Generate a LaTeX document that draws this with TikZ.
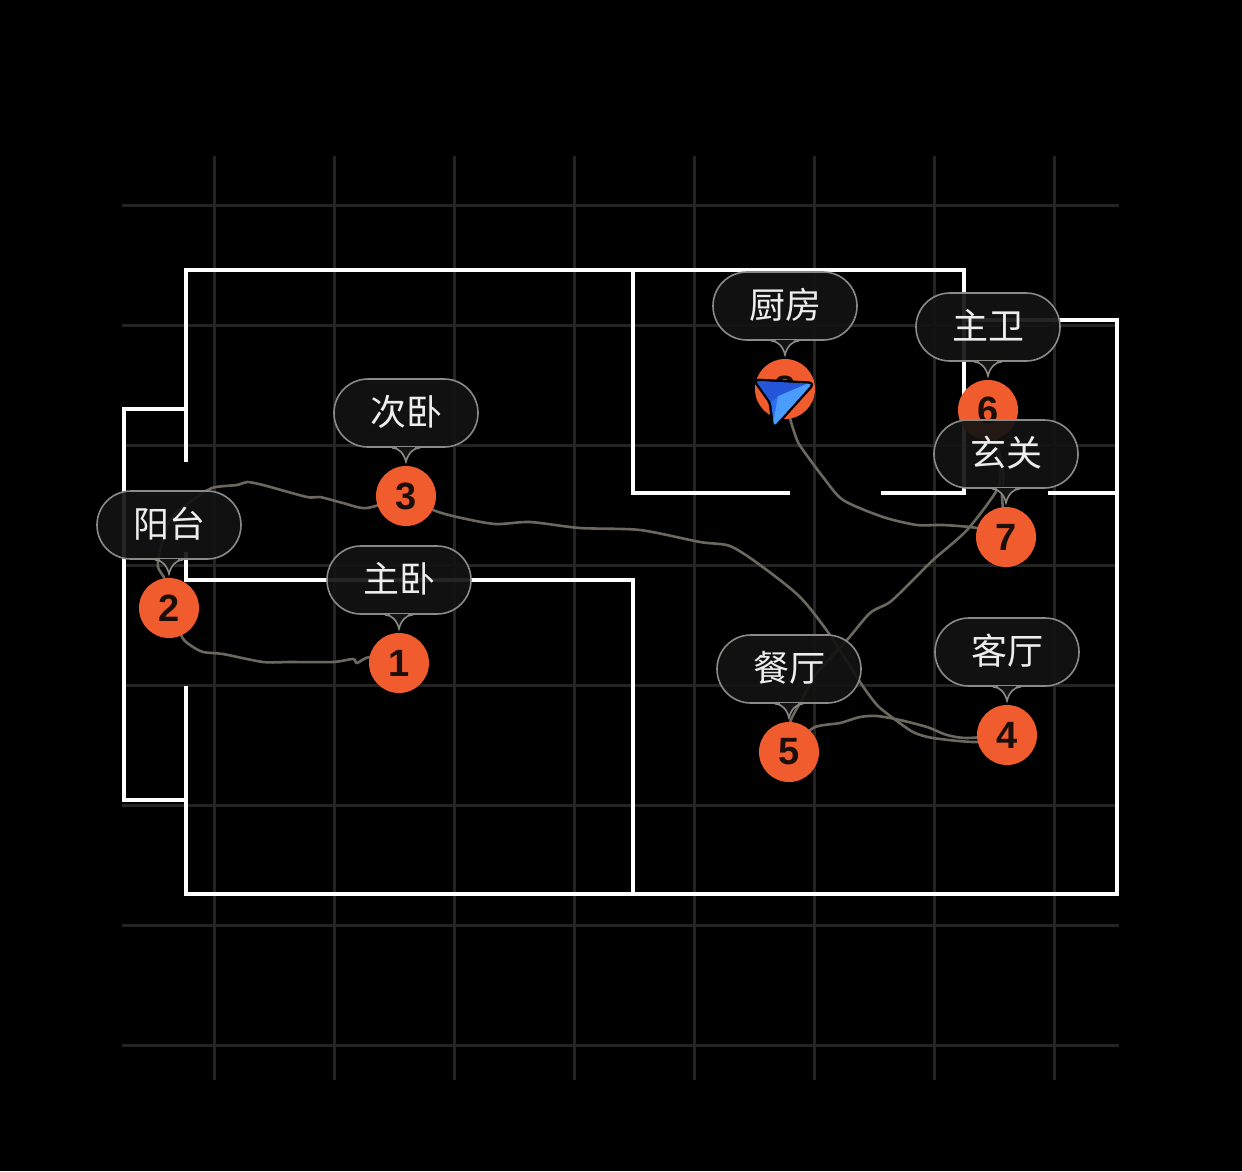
\documentclass[tikz,border=0pt]{standalone}
\usepackage{fontspec}
\setmainfont{Liberation Sans}
\newfontfamily\cjk{Noto Sans CJK SC}
\usetikzlibrary{positioning,backgrounds}
\definecolor{gridline}{HTML}{242424}
\definecolor{trackline}{HTML}{6C685F}
\definecolor{stopfill}{HTML}{F05C2E}
\definecolor{stoptext}{HTML}{1C0E08}
\definecolor{tagfill}{HTML}{131313}
\definecolor{tagedge}{HTML}{8A8A86}
\definecolor{arrowdark}{HTML}{2556DA}
\definecolor{arrowmid}{HTML}{2E6DF4}
\definecolor{arrowlight}{HTML}{4A9CFF}
\tikzset{
  wall/.style={white,line width=4.4pt,line cap=rect},
  track/.style={trackline,line width=2.6pt,smooth,tension=0.45},
  stop/.style={circle,fill=stopfill,minimum size=60pt,inner sep=0pt,text=stoptext,font=\fontsize{38}{40}\selectfont\bfseries},
  tag/.style={draw=tagedge,line width=1.6pt,fill=tagfill,fill opacity=0.92,text opacity=1,rounded corners=33.9pt,
    minimum width=144pt,minimum height=68pt,inner sep=0pt,text height=31pt,text depth=6pt,text=white!93!black,font=\cjk\fontsize{36}{40}\selectfont},
}
\begin{document}
\begin{tikzpicture}[x=1pt,y=-1pt]
\useasboundingbox (0,0) rectangle (1242,1171);
% Paradas
\node[stop] (n1) at (399,663) {1};
\node[stop] (n2) at (169,608) {2};
\node[stop] (n3) at (406,496) {3};
\node[stop] (n4) at (1007,735) {4};
\node[stop] (n5) at (789,752) {5};
\node[stop] (n6) at (988,410) {6};
\node[stop] (n7) at (1006,537) {7};
\node[stop] (n8) at (785,389) {8};
% Etiquetas
\node[tag,above=18pt of n1] (t1) {主卧};
\node[tag,above=18pt of n2] (t2) {阳台};
\node[tag,above=18pt of n3] (t3) {次卧};
\node[tag,above=18pt of n4] (t4) {客厅};
\node[tag,above=18pt of n5] (t5) {餐厅};
\node[tag,above=18pt of n6] (t6) {主卫};
\node[tag,above=18pt of n7] (t7) {玄关};
\node[tag,above=18pt of n8] (t8) {厨房};
\foreach \i in {1,...,8}{
  \fill[tagfill] ([xshift=-9pt,yshift=1.2pt]t\i.south) rectangle ([xshift=9pt,yshift=-1pt]t\i.south);
  \fill[tagfill] ([xshift=-14pt]t\i.south) .. controls ([xshift=-7pt]t\i.south) and ([xshift=-2pt,yshift=-6pt]t\i.south) .. ([yshift=-14pt]t\i.south)
    .. controls ([xshift=2pt,yshift=-6pt]t\i.south) and ([xshift=7pt]t\i.south) .. ([xshift=14pt]t\i.south) -- cycle;
  \draw[tagedge,line width=1.6pt] ([xshift=-14pt]t\i.south) .. controls ([xshift=-7pt]t\i.south) and ([xshift=-2pt,yshift=-6pt]t\i.south) .. ([yshift=-14pt]t\i.south)
    .. controls ([xshift=2pt,yshift=-6pt]t\i.south) and ([xshift=7pt]t\i.south) .. ([xshift=14pt]t\i.south);
}
% Flecha
\draw[black,line width=5pt,line join=round,rounded corners=3pt] (756,381) -- (812,384) -- (774,426) -- (771,402) -- cycle;
\begin{scope}
\clip[rounded corners=3pt] (756,381) -- (812,384) -- (774,426) -- (771,402) -- cycle;
\fill[arrowmid] (750,375) rectangle (820,430);
\fill[arrowlight] (815,380) -- (772,430) -- (778,396) -- cycle;
\fill[arrowdark] (752,378) -- (815,380) -- (778,396) -- (771,402) -- cycle;
\end{scope}
\begin{scope}[on background layer]
\fill[black] (0,0) rectangle (1242,1171);
% Rejilla
\foreach \x in {214,334,...,1054} \draw[gridline,line width=3pt] (\x,156) -- (\x,1080);
\foreach \y in {205,325,...,1045} \draw[gridline,line width=3pt] (122,\y) -- (1119,\y);
% Paredes
\draw[wall] (186,460) -- (186,270) -- (964,270) -- (964,493) -- (883,493);
\draw[wall] (964,320) -- (1117,320) -- (1117,894) -- (186,894) -- (186,688);
\draw[wall] (186,409) -- (124,409) -- (124,800) -- (186,800);
\draw[wall] (788,493) -- (633,493) -- (633,270);
\draw[wall] (1050,493) -- (1117,493);
\draw[wall] (186,554) -- (186,580) -- (633,580) -- (633,894);
% Recorrido
\draw[track] plot coordinates {(n1) (370,657) (357,663) (353,659) (333,662) (290,662) (263,662) (223,654) (203,652) (190,645) (182,637) (n2)};
\draw[track] plot coordinates {(n2) (165,580) (158,567) (160,550) (170,520) (190,502) (212,488) (237,485) (247,482) (263,485) (307,497) (320,497) (343,503) (367,508) (n3)};
\draw[track] plot coordinates {(n3) (433,510) (457,517) (495,524) (530,522) (580,528) (640,530) (700,542) (730,546) (760,565) (800,597) (830,635) (860,682) (877,705) (893,718) (913,732) (933,738) (977,742) (n4)};
\draw[track] plot coordinates {(n4) (967,738) (947,735) (927,727) (900,720) (877,716) (860,717) (840,723) (813,728) (n5)};
\draw[track] plot coordinates {(n5) (790,723) (800,703) (817,673) (847,640) (870,613) (890,602) (913,580) (933,560) (967,530) (997,490) (1000,470) (995,440) (n6)};
\draw[track] plot coordinates {(n6) (1003,470) (1002,497) (n7)};
\draw[track] plot coordinates {(n7) (977,528) (943,525) (917,525) (883,517) (843,500) (823,477) (803,450) (797,440) (790,418) (n8)};
\end{scope}
\end{tikzpicture}
\end{document}
